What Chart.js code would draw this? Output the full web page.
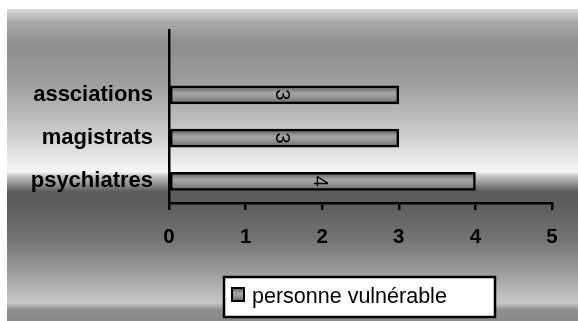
<!DOCTYPE html>
<html>
<head>
<meta charset="utf-8">
<script src="https://cdn.jsdelivr.net/npm/chart.js@4/dist/chart.umd.min.js"></script>
<style>
  html, body { margin: 0; padding: 0; background: #fff; }
  canvas { display: block; }
</style>
</head>
<body>
<canvas id="chart" width="578" height="321"></canvas>
<script>
// categories top to bottom (first slot is left empty, like the original)
const categories = ['', 'assciations', 'magistrats', 'psychiatres'];
const values = [null, 3, 3, 4];
const seriesLabel = 'personne vulnérable';
const xMin = 0, xMax = 5, xStep = 1;

const FONT = '"Liberation Sans", Arial, sans-serif';

// grey gradient used for the bars and the legend swatch
function barGradient(ctx, top, bottom) {
    const g = ctx.createLinearGradient(0, top, 0, bottom);
    g.addColorStop(0, '#5e5e5e');
    g.addColorStop(0.2, '#7e7e7e');
    g.addColorStop(0.4, '#a6a6a6');
    g.addColorStop(0.6, '#989898');
    g.addColorStop(0.82, '#808080');
    g.addColorStop(1, '#5a5a5a');
    return g;
}

// page background: white margin + banded grey gradient
const backdrop = {
    id: 'backdrop',
    beforeDraw(chart) {
        const ctx = chart.ctx;
        ctx.save();
        ctx.fillStyle = '#ffffff';
        ctx.fillRect(0, 0, chart.width, chart.height);
        const top = 9, bottom = chart.height;
        const g = ctx.createLinearGradient(0, top, 0, bottom);
        const stops = [
            [9, '#dcdcdc'], [22, '#a8a8a8'], [45, '#8e8e8e'], [80, '#9c9c9c'],
            [120, '#bebebe'], [150, '#dedede'], [172, '#f6f6f6'], [175, '#cdcdcd'],
            [192, '#5a5a5a'], [205, '#5e5e5e'], [240, '#747474'], [270, '#9a9a9a'],
            [303, '#c8c8c8'], [310, '#8e8e8e'], [321, '#8a8a8a']
        ];
        stops.forEach(s => g.addColorStop((s[0] - top) / (bottom - top), s[1]));
        ctx.fillStyle = g;
        ctx.fillRect(7, top, chart.width - 7, bottom - top);
        ctx.restore();
    }
};

// value labels, rotated, in the middle of each bar
const barValues = {
    id: 'barValues',
    afterDatasetsDraw(chart) {
        const ctx = chart.ctx;
        const meta = chart.getDatasetMeta(0);
        ctx.save();
        ctx.fillStyle = '#000';
        ctx.font = '20px ' + FONT;
        ctx.textAlign = 'center';
        ctx.textBaseline = 'middle';
        meta.data.forEach((el, i) => {
            const v = values[i];
            if (v == null) return;
            ctx.save();
            ctx.translate((el.x + el.base) / 2 - 2, el.y);
            ctx.rotate(Math.PI / 2);
            ctx.fillText(String(v), 0, 1);
            ctx.restore();
        });
        ctx.restore();
    }
};

// boxed legend under the axis
const boxLegend = {
    id: 'boxLegend',
    afterDraw(chart) {
        const ctx = chart.ctx;
        ctx.save();
        ctx.fillStyle = '#ffffff';
        ctx.fillRect(224, 277, 271, 40);
        ctx.strokeStyle = '#000';
        ctx.lineWidth = 2.5;
        ctx.strokeRect(224, 277, 271, 40);
        ctx.fillStyle = barGradient(ctx, 288, 301);
        ctx.fillRect(232, 288, 12, 13);
        ctx.lineWidth = 2;
        ctx.strokeRect(232, 288, 12, 13);
        ctx.fillStyle = '#000';
        ctx.font = '21.5px ' + FONT;
        ctx.textAlign = 'left';
        ctx.textBaseline = 'middle';
        ctx.fillText(chart.data.datasets[0].label, 252, 297);
        ctx.restore();
    }
};

new Chart(document.getElementById('chart'), {
    type: 'bar',
    data: {
        labels: categories,
        datasets: [{
            label: seriesLabel,
            data: values,
            backgroundColor: (c) => {
                const ys = c.chart.scales.y;
                if (!ys || c.type !== 'data') return '#9a9a9a';
                const cy = ys.getPixelForValue(c.dataIndex);
                if (!isFinite(cy)) return '#9a9a9a';
                return barGradient(c.chart.ctx, cy - 9, cy + 9);
            },
            borderColor: '#000',
            borderWidth: 2.5,
            borderSkipped: false,
            barThickness: 18
        }]
    },
    options: {
        indexAxis: 'y',
        responsive: false,
        animation: false,
        layout: { padding: { left: 0, top: 30, right: 26, bottom: 0 } },
        plugins: {
            legend: { display: false },
            tooltip: { enabled: false }
        },
        scales: {
            x: {
                min: xMin,
                max: xMax,
                ticks: {
                    stepSize: xStep,
                    color: '#000',
                    padding: 15,
                    font: { family: FONT, size: 20.5, weight: 'bold' }
                },
                grid: {
                    drawOnChartArea: false,
                    drawTicks: true,
                    tickLength: 7,
                    color: '#000',
                    lineWidth: 2.5
                },
                border: { color: '#000', width: 2.5 },
                afterFit(scale) { scale.height = 118; }
            },
            y: {
                ticks: {
                    color: '#000',
                    padding: 16,
                    font: { family: FONT, size: 22, weight: 'bold' }
                },
                grid: { drawOnChartArea: false, drawTicks: false },
                border: { color: '#000', width: 2.5 },
                afterFit(scale) { scale.width = 169; }
            }
        }
    },
    plugins: [backdrop, barValues, boxLegend]
});
</script>
</body>
</html>
